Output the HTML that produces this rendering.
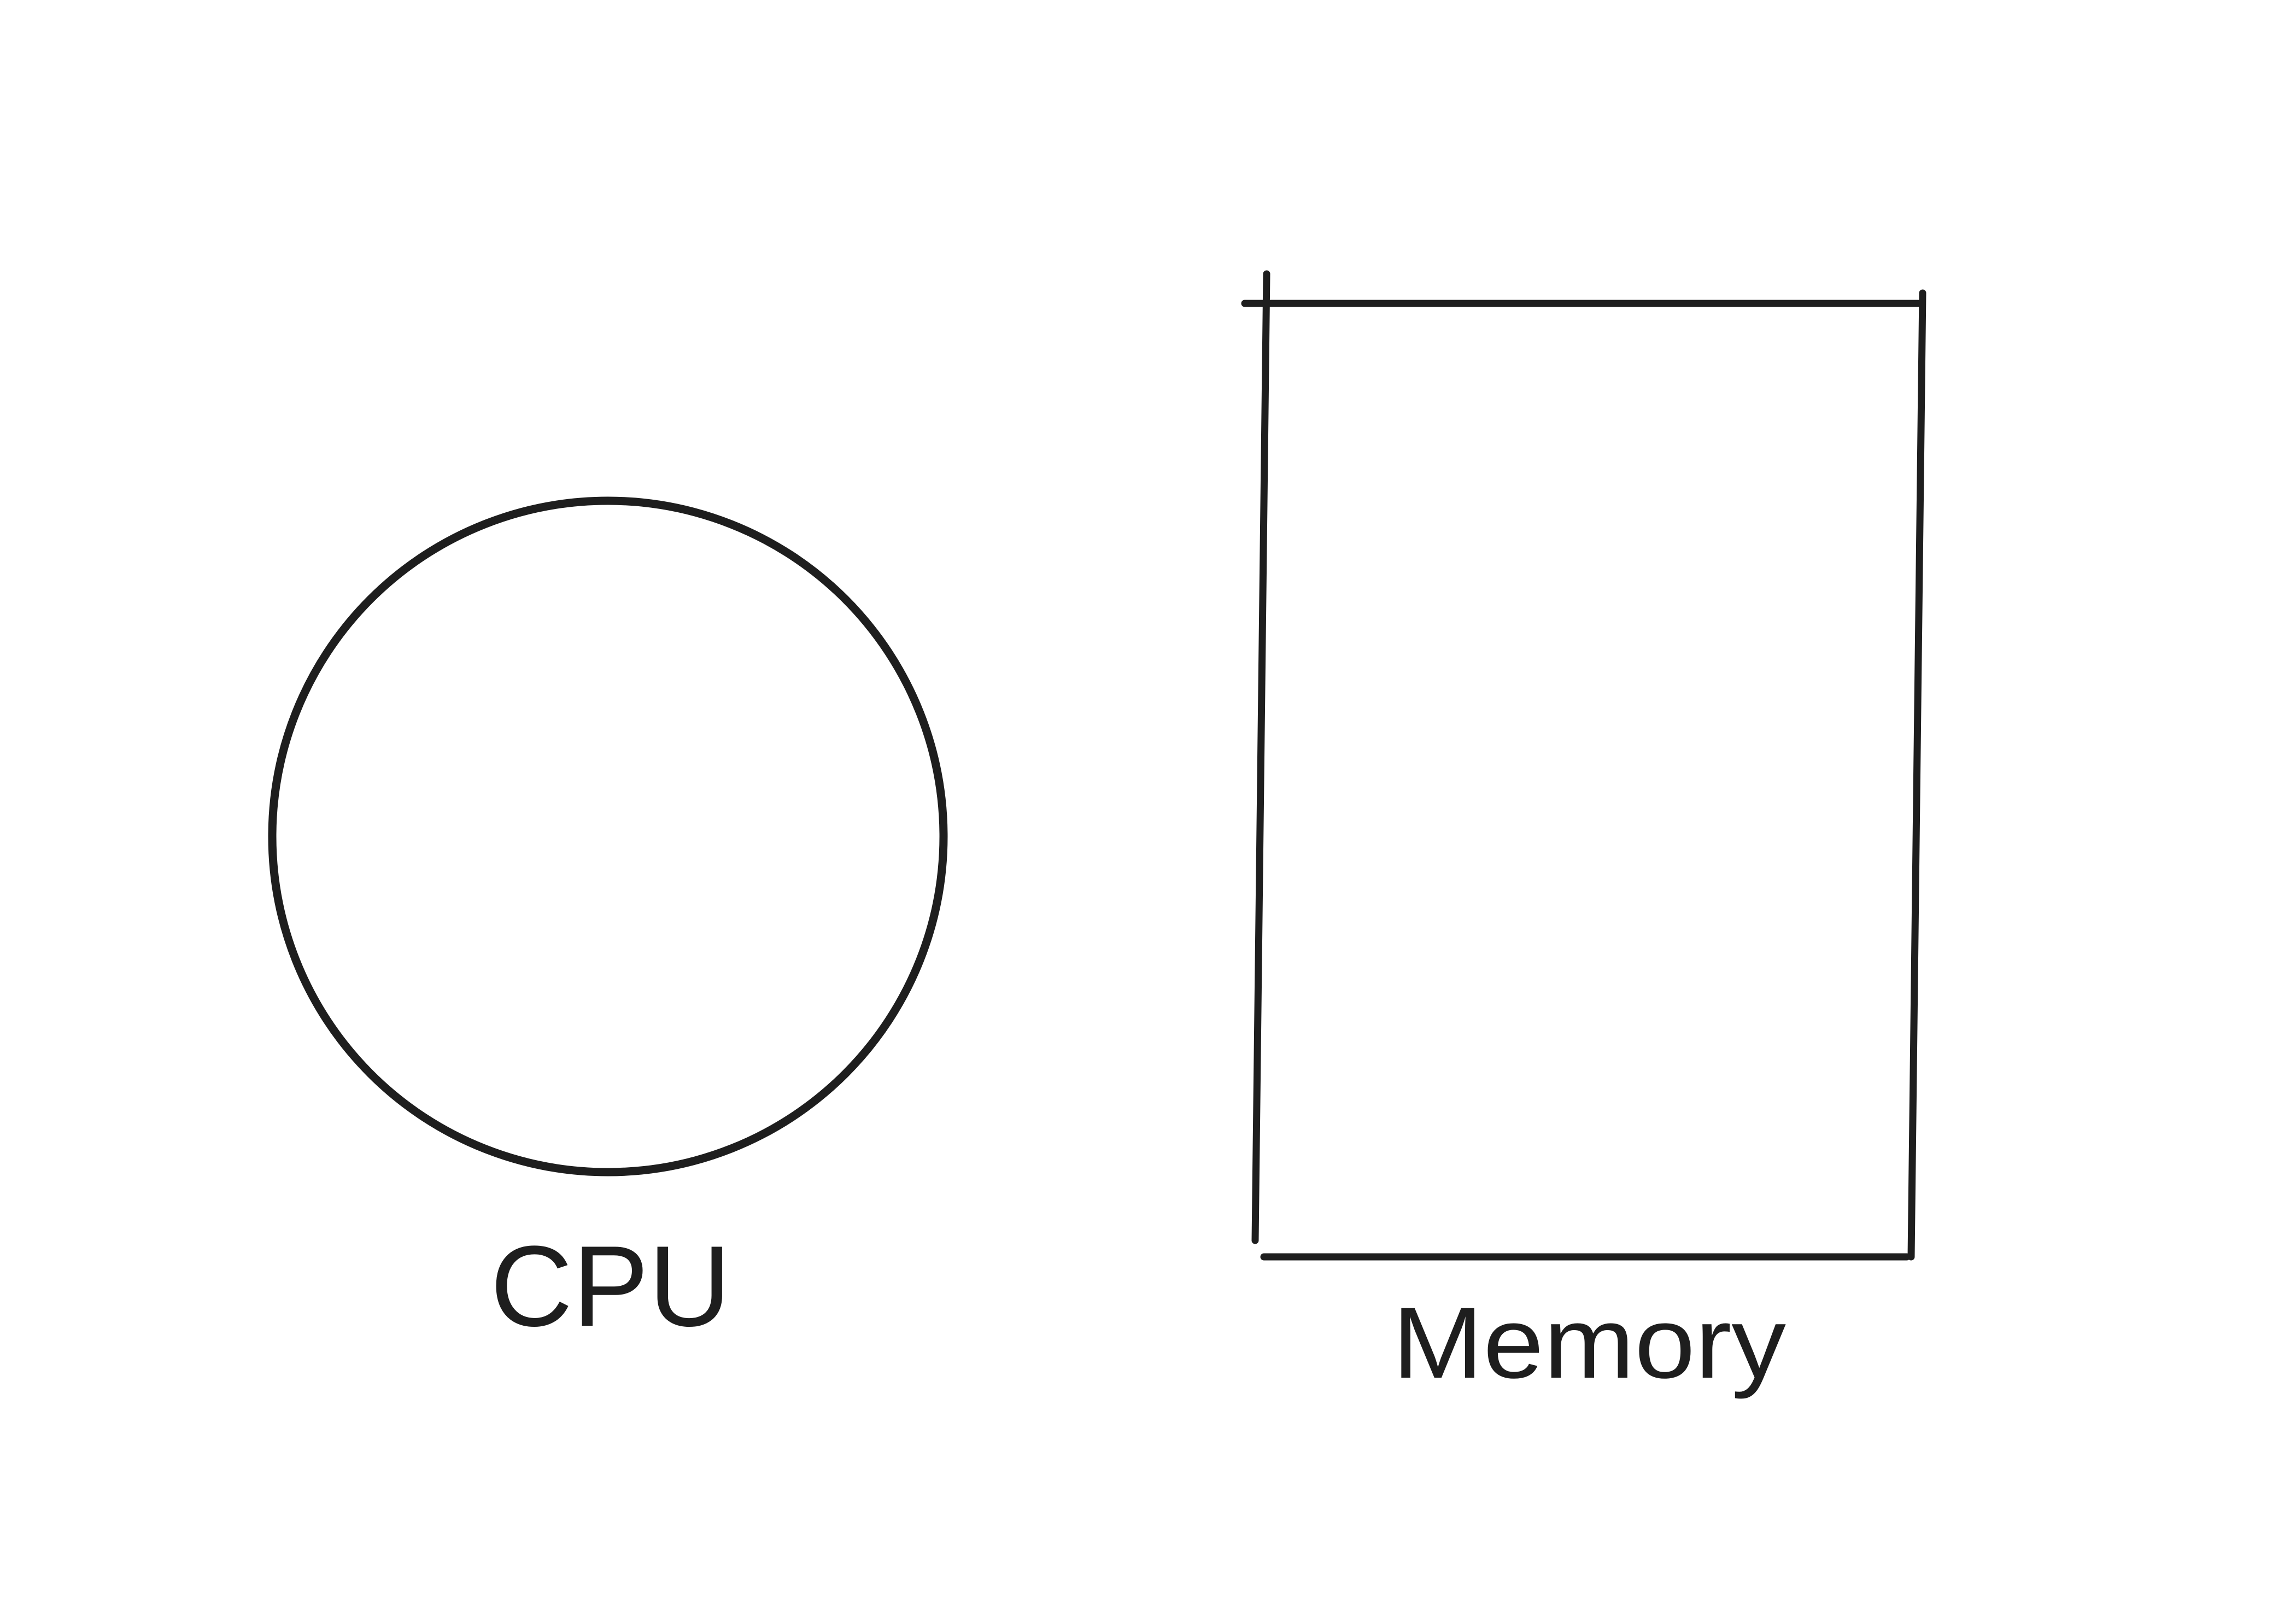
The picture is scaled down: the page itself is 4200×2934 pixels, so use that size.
<!DOCTYPE html>
<html>
<head>
<meta charset="utf-8">
<style>
  html,body{margin:0;padding:0;background:#ffffff;}
  svg{display:block;}
</style>
</head>
<body>
<svg width="4200" height="2934" viewBox="0 0 4200 2934" xmlns="http://www.w3.org/2000/svg">
  <rect width="4200" height="2934" fill="#ffffff"/>
  <g fill="none" stroke="#1e1e1e" stroke-width="15" stroke-linecap="round">
    <circle cx="1112" cy="1530" r="614"/>
  </g>
  <text x="1117" y="2425" text-anchor="middle" textLength="440" lengthAdjust="spacingAndGlyphs"
        font-family="'Liberation Sans', sans-serif" font-size="210" fill="#1e1e1e">CPU</text>
  <g fill="none" stroke="#1e1e1e" stroke-width="13" stroke-linecap="round">
    <line x1="2277" y1="555" x2="3509" y2="555"/>
    <line x1="2317" y1="501" x2="2296" y2="2269"/>
    <line x1="3517" y1="536" x2="3496" y2="2299"/>
    <line x1="2312" y1="2299" x2="3488" y2="2299"/>
  </g>
  <text x="2907" y="2520" text-anchor="middle" textLength="720" lengthAdjust="spacingAndGlyphs"
        font-family="'Liberation Sans', sans-serif" font-size="185" fill="#1e1e1e">Memory</text>
</svg>
</body>
</html>
